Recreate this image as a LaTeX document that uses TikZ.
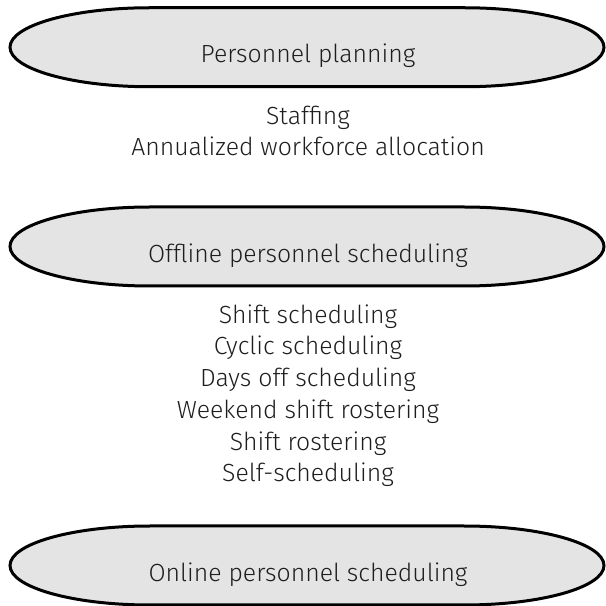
\documentclass[tikz,border=0pt]{standalone}
\usepackage{fontspec}
\setmainfont{Fira Sans}[UprightFont=* Light]
\definecolor{bandgray}{HTML}{E4E4E4}
\definecolor{ink}{HTML}{1E1E1E}
\begin{document}
\begin{tikzpicture}[x=1pt,y=1pt,
  bandline/.style={draw=black, line width=3pt, fill=bandgray},
  title/.style={font=\fontsize{24.8}{31.7}\selectfont, text=ink, anchor=base, inner sep=0pt},
  items/.style={font=\fontsize{24.8}{31.7}\selectfont, text=ink, align=center, anchor=north, inner sep=0pt},
  pics/band/.style={code={
    \draw[bandline] (-157,39.5) -- (157,39.5)
      arc[start angle=90, end angle=-90, x radius=140, y radius=39.5]
      -- (-157,-39.5)
      arc[start angle=270, end angle=90, x radius=140, y radius=39.5] -- cycle;
  }}]
\useasboundingbox (0,0) rectangle (606,606);

% three levels of the planning hierarchy
\pic (planband) at (307,558.75) {band};
\node[title] (plan) at (308,543) {Personnel planning};
\node[items] (planitems) at (308,500.6) {Staffing\\Annualized workforce allocation};

\pic (offband) at (307,359.5) {band};
\node[title] (offline) at (308,343) {Offline personnel scheduling};
\node[items] (offitems) at (308,301.6) {Shift scheduling\\Cyclic scheduling\\Days off scheduling\\Weekend shift rostering\\Shift rostering\\Self-scheduling};

\pic (onband) at (307,40.5) {band};
\node[title] (online) at (308,24) {Online personnel scheduling};
\end{tikzpicture}
\end{document}
